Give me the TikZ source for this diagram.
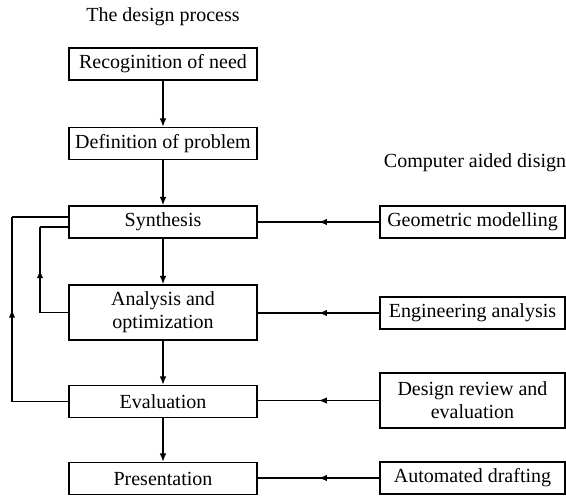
\documentclass[tikz,border=0pt]{standalone}
\usepackage{fontspec}
\setmainfont{Liberation Serif}
\usetikzlibrary{arrows.meta,decorations.markings}

\tikzset{
    stepbox/.style={draw=black, line width=0.9pt, minimum width=112.8pt, minimum height=19.2pt,
        inner sep=2pt, align=center, font=\fontsize{12}{13.8}\selectfont},
    link/.style={line width=0.8pt, -{Latex[length=5pt,width=4pt]}},
    midarrow/.style={line width=0.8pt, decoration={markings,
        mark=at position 0.5 with {\arrow{Latex[length=5pt,width=3.8pt]}}}, postaction={decorate}},
}

\begin{document}
\begin{tikzpicture}[x=0.6pt,y=-0.6pt]
    \useasboundingbox (0,0) rectangle (566,495);

    % Titoli
    \node[font=\fontsize{12}{14}\selectfont] (tproc) at (163,17) {The design process};
    \node[font=\fontsize{12}{14}\selectfont] (tcad) at (475,163) {Computer aided disign};

    % Processo di progetto
    \node[stepbox] (rec) at (163,64) {Recoginition of need};
    \node[stepbox] (def) at (163,143.5) {Definition of problem};
    \node[stepbox] (syn) at (163,222) {Synthesis};
    \node[stepbox, minimum height=33pt] (ana) at (163,312.5) {Analysis and\\optimization};
    \node[stepbox] (eva) at (163,401.5) {Evaluation};
    \node[stepbox] (pre) at (163,478.5) {Presentation};

    % Strumenti CAD
    \node[stepbox, minimum width=111pt] (geo) at (472.5,222) {Geometric modelling};
    \node[stepbox, minimum width=111pt] (eng) at (472.5,313) {Engineering analysis};
    \node[stepbox, minimum width=111pt, minimum height=33pt] (rev) at (472.5,400.5) {Design review and\\evaluation};
    \node[stepbox, minimum width=111pt] (aut) at (472.5,478) {Automated drafting};

    % Flusso principale
    \draw[link] (rec) -- (def);
    \draw[link] (def) -- (syn);
    \draw[link] (syn) -- (ana);
    \draw[link] (ana) -- (eva);
    \draw[link] (eva) -- (pre);

    % Collegamenti CAD
    \draw[midarrow] (geo.west) -- (syn.east);
    \draw[midarrow] (eng.west) -- (eng.west -| ana.east);
    \draw[midarrow] (rev.west) -- (rev.west -| eva.east);
    \draw[midarrow] (aut.west) -- (aut.west -| pre.east);

    % Retroazioni
    \coordinate (outB) at (12,401.5);
    \coordinate (outT) at (12,217);
    \coordinate (inB) at (40,312.5);
    \coordinate (inT) at (40,227);
    \draw[line width=0.8pt] (eva.west) -- (outB);
    \draw[midarrow] (outB) -- (outT);
    \draw[line width=0.8pt] (outT) -- (outT -| syn.west);
    \draw[line width=0.8pt] (ana.west) -- (inB);
    \draw[midarrow] (inB) -- (inT);
    \draw[line width=0.8pt] (inT) -- (inT -| syn.west);

\end{tikzpicture}
\end{document}
